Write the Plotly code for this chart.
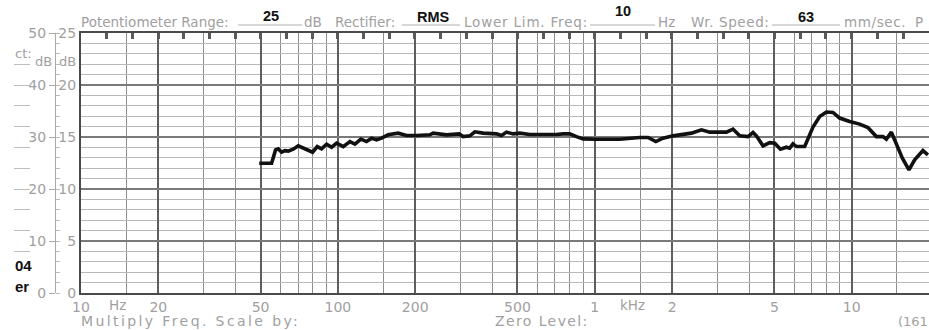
import math
import plotly.graph_objects as go

# ---------------- data ----------------
freq_hz = [49.4, 55.2, 57.2, 58.6, 60.4, 62.2, 64.1, 67.0, 70.1, 73.3, 76.6, 79.7, 83.1, 86.4,
           90.4, 94.5, 98.9, 104.9, 111.4, 116.5, 122.9, 129.3, 135.3, 141.4, 147.9, 156.9,
           171.6, 185.1, 202.4, 228, 234.9, 264.8, 296.5, 307.3, 326.3, 341.2, 367.6, 414.5,
           433.5, 453.4, 481, 510.6, 558.5, 629.5, 709.6, 752.6, 799.3, 848.8, 900.5, 1015,
           1251, 1496, 1612, 1728, 1844, 2017, 2378, 2602, 2802, 3254, 3452, 3666, 3950, 4130,
           4258, 4518, 4797, 5017, 5280, 5570, 5738, 5910, 6093, 6563, 6761, 7070, 7508, 7973,
           8458, 8980, 9822, 10744, 11570, 12479, 13240, 13646, 14272, 14927, 15752, 16712,
           17586, 18943, 19813]
level_db = [12.48, 12.48, 13.76, 13.86, 13.54, 13.69, 13.64, 13.83, 14.15, 13.93, 13.69, 13.54,
            14.08, 13.86, 14.31, 14.02, 14.41, 14.08, 14.56, 14.31, 14.79, 14.56, 14.89, 14.73,
            14.89, 15.21, 15.37, 15.14, 15.14, 15.21, 15.37, 15.21, 15.30, 15.04, 15.11, 15.50,
            15.37, 15.30, 15.14, 15.47, 15.30, 15.37, 15.24, 15.21, 15.24, 15.30, 15.30, 15.04,
            14.82, 14.79, 14.79, 14.95, 14.95, 14.56, 14.89, 15.11, 15.37, 15.69, 15.47, 15.47,
            15.76, 15.11, 15.04, 15.43, 15.11, 14.15, 14.46, 14.41, 13.83, 14.02, 13.93, 14.34,
            14.08, 14.08, 14.89, 15.95, 16.97, 17.40, 17.36, 16.82, 16.49, 16.24, 15.91, 15.04,
            15.04, 14.79, 15.47, 14.41, 12.96, 11.83, 12.80, 13.69, 13.28]

x_tick_vals = [10, 20, 50, 100, 200, 500, 1000, 2000, 5000, 10000, 20000]
x_tick_text = ["10", "20", "50", "100", "200", "500", "1", "2", "5", "10", "20"]
x_minor_vals = [15, 30, 40, 60, 70, 80, 90, 150, 300, 400, 600, 700, 800, 900,
                1500, 3000, 4000, 6000, 7000, 8000, 9000, 15000]
inner_ticks = [0, 5, 10, 15, 20, 25]
outer_ticks = [0, 10, 20, 30, 40, 50]
side_dash_ticks = [4, 6, 8, 10, 12, 14, 16, 18, 20, 22]
top_mark_vals = [10 ** (1 + 0.1 * k) for k in range(1, 34)]

# ---------------- geometry helpers ----------------
W, H = 929, 330
L, R, T, B = 81, 929, 33, 293
def px(x): return x / W
def py(y): return 1 - y / H

GRAY = "#a0a0a0"
FONT = "DejaVu Sans"
BOLD = "Liberation Sans"

fig = go.Figure()
fig.add_trace(go.Scatter(x=freq_hz, y=level_db, mode="lines",
                         line=dict(color="#111111", width=3.6),
                         xaxis="x", yaxis="y", showlegend=False, hoverinfo="skip"))
# helper invisible traces so overlay axes get drawn
fig.add_trace(go.Scatter(x=[100], y=[10], xaxis="x2", yaxis="y", mode="markers",
                         marker=dict(opacity=0), showlegend=False, hoverinfo="skip"))
fig.add_trace(go.Scatter(x=[100], y=[10], xaxis="x", yaxis="y2", mode="markers",
                         marker=dict(opacity=0), showlegend=False, hoverinfo="skip"))
fig.add_trace(go.Scatter(x=[100], y=[10], xaxis="x", yaxis="y3", mode="markers",
                         marker=dict(opacity=0), showlegend=False, hoverinfo="skip"))

xrange = [1, math.log10(20000)]
fig.update_layout(
    width=W, height=H, autosize=False,
    margin=dict(l=0, r=0, t=0, b=0, pad=0, autoexpand=False),
    paper_bgcolor="white", plot_bgcolor="white",
    showlegend=False,
    xaxis=dict(type="log", domain=[px(L), 1], range=xrange, automargin=False,
               tickvals=x_tick_vals, ticktext=x_tick_text,
               showgrid=True, gridcolor="#5e5e5e", gridwidth=1.8,
               minor=dict(tickvals=x_minor_vals, showgrid=True, gridcolor="#8c8c8c", gridwidth=1),
               ticks="", tickfont=dict(family=FONT, size=14, color=GRAY),
               showline=True, linecolor="#4a4a4a", linewidth=2, mirror=True,
               zeroline=False, anchor="y", fixedrange=True),
    xaxis2=dict(type="log", overlaying="x", anchor="y", side="top", range=xrange,
                automargin=False,
                tickvals=top_mark_vals, ticks="inside", ticklen=6, tickwidth=3,
                tickcolor="#5a5a5a", showticklabels=False, showgrid=False,
                showline=False, zeroline=False),
    yaxis=dict(domain=[1 - B / H, 1 - T / H], range=[0, 25], automargin=False,
               tickvals=inner_ticks, ticks="",
               showgrid=True, gridcolor="#7a7a7a", gridwidth=1.5,
               minor=dict(dtick=1, showgrid=True, gridcolor="#b8b8b8", gridwidth=1),
               tickfont=dict(family=FONT, size=14, color=GRAY),
               showline=True, linecolor="#4a4a4a", linewidth=2,
               zeroline=False, anchor="x", fixedrange=True),
    yaxis2=dict(overlaying="y", anchor="free", position=px(55), range=[0, 50],
                automargin=False,
                tickvals=outer_ticks, ticks="outside", ticklen=6, tickcolor="#aaaaaa",
                minor=dict(dtick=2, ticks="inside", ticklen=4, tickcolor="#bbbbbb", showgrid=False),
                showgrid=False, showline=True, linecolor="#aaaaaa", linewidth=1,
                tickfont=dict(family=FONT, size=14, color=GRAY), zeroline=False),
    yaxis3=dict(overlaying="y", anchor="free", position=px(30), range=[0, 25],
                automargin=False,
                tickvals=side_dash_ticks, ticks="outside", ticklen=16, tickcolor="#bdbdbd",
                showticklabels=False, showgrid=False, showline=False, zeroline=False),
)

ann = []
def text(t, x, y, size=13.5, color=GRAY, family=FONT, xanchor="left", yanchor="middle"):
    ann.append(dict(text=t, x=px(x), y=py(y), xref="paper", yref="paper",
                    xanchor=xanchor, yanchor=yanchor, showarrow=False,
                    font=dict(family=family, size=size, color=color)))

# header line
text("Potentiometer Range:", 79, 21.5)
text("<b>25</b>", 261, 16, size=14.5, color="#111", family=BOLD)
text("dB", 302, 21.5)
text("Rectifier:", 333, 21.5)
text("<b>RMS</b>", 415, 16.5, size=14.5, color="#111", family=BOLD)
text('<span style="letter-spacing:0.8px">Lower Lim. Freq:</span>', 462, 21.5)
text("<b>10</b>", 613, 11, size=14.5, color="#111", family=BOLD)
text("Hz", 656, 21.5)
text('<span style="letter-spacing:0.6px">Wr. Speed:</span>', 689, 21.5)
text("<b>63</b>", 796, 17, size=14.5, color="#111", family=BOLD)
text('<span style="letter-spacing:0.6px">mm/sec.</span>', 842, 21.5)
text("P", 913, 21.5)

# left column
text("ct:", 13, 54, size=13)
text("dB", 33, 61.5, size=13)
text("dB", 57, 61.5, size=13)
text("<b>04</b>", 13, 265, size=15, color="#111", family=BOLD)
text("<b>er</b>", 13, 286, size=15, color="#111", family=BOLD)

# bottom
text("Hz", 117, 305, size=13.5, xanchor="center")
text("kHz", 632, 305, size=13.5, xanchor="center")
text('<span style="letter-spacing:2.4px">Multiply Freq. Scale by:</span>', 79, 321, size=14)
text('<span style="letter-spacing:1.4px">Zero Level:</span>', 493, 321, size=14)
text("(161", 896, 321, size=13)

shapes = []
for x0, x1 in [(238, 302), (402, 460), (590, 655), (772, 840)]:
    shapes.append(dict(type="line", xref="paper", yref="paper",
                       x0=px(x0), x1=px(x1), y0=py(25), y1=py(25),
                       line=dict(color="#b0b0b0", width=1)))

fig.update_layout(annotations=ann, shapes=shapes)
fig.write_html("out.html")
